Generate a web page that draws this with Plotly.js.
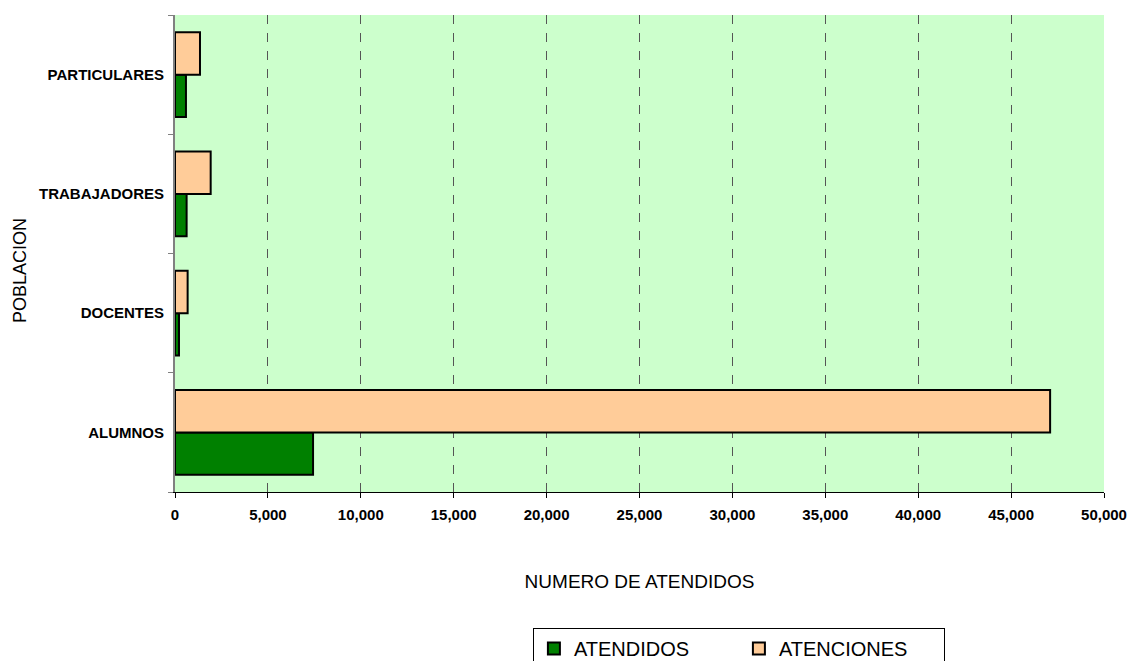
<!DOCTYPE html>
<html><head><meta charset="utf-8">
<script src="https://cdn.plot.ly/plotly-3.0.1.min.js"></script>
<style>body{margin:0;padding:0;background:#fff}#chart{width:1129px;height:661px}</style>
</head><body><div id="chart"></div>
<script>
const categories = ["ALUMNOS", "DOCENTES", "TRABAJADORES", "PARTICULARES"];
const atendidos = [7430, 215, 625, 590];
const atenciones = [47100, 680, 1920, 1345];
const xTickVals = [0,5000,10000,15000,20000,25000,30000,35000,40000,45000,50000];

const traces = [
  {type:'bar', orientation:'h', name:'ATENDIDOS', y:categories, x:atendidos,
   marker:{color:'#008000', line:{color:'#000', width:2}}},
  {type:'bar', orientation:'h', name:'ATENCIONES', y:categories, x:atenciones,
   marker:{color:'#FFCC99', line:{color:'#000', width:2}}}
];
const layout = {
  width:1129, height:661,
  margin:{l:175, r:25, t:15, b:169},
  paper_bgcolor:'#fff', plot_bgcolor:'#CCFFCC',
  font:{family:'Liberation Sans, Arial, sans-serif', size:12, color:'#000'},
  barmode:'group', bargap:0.29, bargroupgap:0,
  xaxis:{range:[0,50000], tickvals:xTickVals, tickformat:',d',
    showgrid:true, gridcolor:'#555', griddash:'dash', gridwidth:1,
    zeroline:false, showline:true, linecolor:'#000', linewidth:1,
    ticks:'outside', ticklen:5, tickcolor:'#000', ticklabelstandoff:4,
    tickfont:{size:15, weight:'bold'},
    title:{text:'NUMERO DE ATENDIDOS', font:{size:19}, standoff:52}},
  yaxis:{type:'category', categoryorder:'array', categoryarray:categories,
    showline:true, linecolor:'#808080', linewidth:2,
    ticks:'outside', ticklen:5, tickcolor:'#808080', tickson:'boundaries',
    ticklabelstandoff:6,
    showgrid:false, tickfont:{size:15, weight:'bold'}},
  annotations:[{text:'POBLACION', textangle:-90, xref:'paper', yref:'paper',
    x:-0.167, y:0.465, xanchor:'center', yanchor:'middle', showarrow:false,
    font:{size:18}}],
  showlegend:true,
  legend:{orientation:'h', xref:'paper', x:0.607, xanchor:'center',
    yref:'container', y:0.0499, yanchor:'top',
    bordercolor:'#000', borderwidth:1, font:{size:20},
    traceorder:'normal', entrywidth:160, itemwidth:30}
};
Plotly.newPlot('chart', traces, layout, {displayModeBar:false});
</script></body></html>
